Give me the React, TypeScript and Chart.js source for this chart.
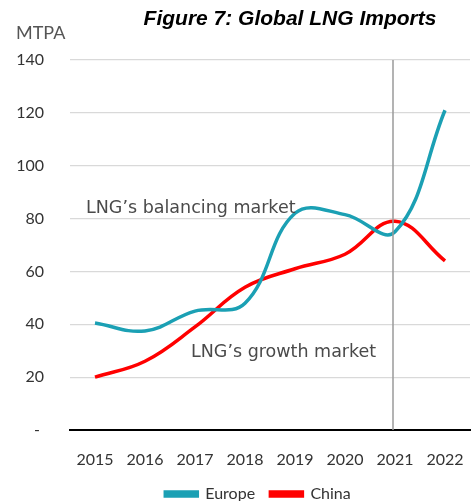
import React, { useEffect, useRef } from "react";
import { Chart, registerables } from "chart.js";

Chart.register(...registerables);

const years = ["2015", "2016", "2017", "2018", "2019", "2020", "2021", "2022"];
const europe = [40.5, 37.5, 45, 48, 82, 81.5, 75, 121];
const china = [20, 26, 39, 54, 61, 66.5, 79, 64];
const yTicks = [0, 20, 40, 60, 80, 100, 120, 140];
const annotations = [
  { text: "LNG\u2019s balancing market", at: -0.18, value: 84 },
  { text: "LNG\u2019s growth market", at: 1.92, value: 29.5 },
];
const markerYear = 6;
const title = "Figure 7: Global LNG Imports";
const unit = "MTPA";

const FONT = "Lato, 'DejaVu Sans', sans-serif";

export default function App() {
  const ref = useRef<HTMLCanvasElement>(null);
  useEffect(() => {
    document.body.style.margin = "0";
    const overlay = {
      id: "overlay",
      afterLayout(chart: any) {
        if (chart.legend) {
          chart.legend.left += 17;
          chart.legend.right += 17;
        }
      },
      afterDatasetsDraw(chart: any) {
        const { ctx, chartArea, scales } = chart;
        const x = scales.x;
        const y = scales.y;
        ctx.save();
        const vx = x.getPixelForValue(markerYear) - 2;
        ctx.strokeStyle = "#9a9a9a";
        ctx.lineWidth = 1.5;
        ctx.beginPath();
        ctx.moveTo(vx, chartArea.top);
        ctx.lineTo(vx, chartArea.bottom);
        ctx.stroke();
        ctx.fillStyle = "#4a4a4a";
        ctx.font = "17.5px 'DejaVu Sans', sans-serif";
        ctx.textBaseline = "middle";
        ctx.textAlign = "left";
        annotations.forEach((a) => {
          ctx.fillText(a.text, x.getPixelForValue(a.at), y.getPixelForValue(a.value));
        });
        ctx.restore();
      },
      afterDraw(chart: any) {
        const { ctx } = chart;
        ctx.save();
        ctx.fillStyle = "#000";
        ctx.font = "italic bold 21px 'Liberation Sans', Arial, sans-serif";
        ctx.textAlign = "center";
        ctx.textBaseline = "middle";
        ctx.fillText(title, 290, 19);
        ctx.fillStyle = "#555";
        ctx.font = "18px " + FONT;
        ctx.textAlign = "left";
        ctx.fillText(unit, 16, 33);
        ctx.restore();
      },
    };
    const chart = new Chart(ref.current!, {
      type: "line",
      data: {
        labels: years,
        datasets: [
          {
            label: "Europe",
            data: europe,
            borderColor: "#1ba0b4",
            backgroundColor: "#1ba0b4",
            borderWidth: 3.5,
            tension: 0.4,
            pointRadius: 0,
          },
          {
            label: "China",
            data: china,
            borderColor: "#ff0000",
            backgroundColor: "#ff0000",
            borderWidth: 3.5,
            tension: 0.4,
            pointRadius: 0,
          },
        ],
      },
      options: {
        animation: false,
        responsive: false,
        layout: { padding: { top: 60, right: 4, left: 12, bottom: 0 } },
        plugins: {
          legend: {
            position: "bottom",
            labels: {
              boxWidth: 32,
              boxHeight: 4,
              color: "#333",
              font: { family: FONT, size: 16 },
              padding: 3,
              generateLabels: (c: any) => {
                const items = Chart.defaults.plugins.legend.labels.generateLabels(c);
                return items.map((it: any, i: number) =>
                  i < items.length - 1 ? { ...it, text: it.text + "   " } : it
                );
              },
            },
          },
          tooltip: { enabled: false },
        },
        scales: {
          x: {
            offset: true,
            grid: { display: false, drawTicks: false },
            border: { color: "#000", width: 2 },
            ticks: { color: "#333", font: { family: FONT, size: 16, lineHeight: 1 }, padding: 22, maxRotation: 0 },
            afterFit: (s: any) => {
              s.paddingLeft = 0;
              s.paddingRight = 0;
              s.height = 53;
            },
          },
          y: {
            min: 0,
            max: 140,
            afterBuildTicks: (s: any) => {
              s.ticks = yTicks.map((v) => ({ value: v }));
            },
            afterFit: (s: any) => {
              s.width = 58;
            },
            grid: { color: "#d9d9d9", lineWidth: 1.2, drawTicks: false },
            border: { display: false },
            ticks: {
              color: "#333",
              font: { family: FONT, size: 16 },
              padding: 26,
              callback: (v: any) => (Number(v) === 0 ? "- " : String(v)),
            },
          },
        },
      },
      plugins: [overlay],
    });
    return () => chart.destroy();
  }, []);
  return (
    <div style={{ width: 474, height: 501, overflow: "hidden" }}>
      <canvas ref={ref} width={474} height={512} style={{ display: "block" }} />
    </div>
  );
}
